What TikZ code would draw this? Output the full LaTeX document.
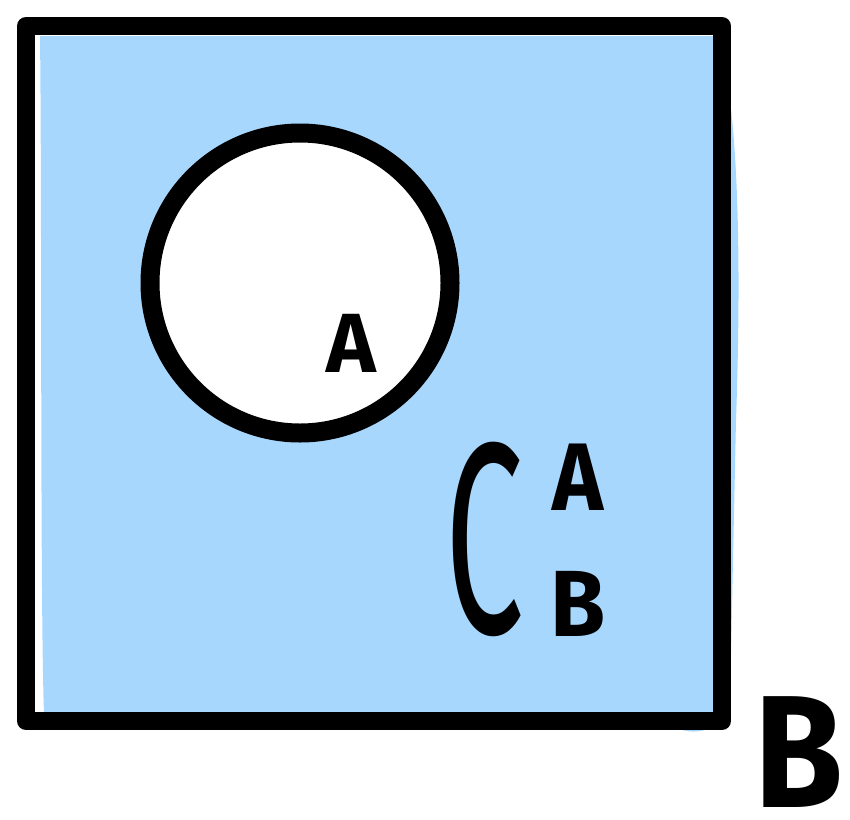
\documentclass[tikz,border=0pt]{standalone}
\usepackage{fontspec}
\setmainfont{Fira Sans}
\definecolor{setblue}{HTML}{A8D7FD}
\tikzset{
  outline/.style={draw=black, line join=round, line cap=round},
  hand/.style={inner sep=0pt, outer sep=0pt, text=black},
}
\begin{document}
\begin{tikzpicture}[x=1pt, y=-1pt]
\useasboundingbox (0,0) rectangle (850,819);
% wobbly blue fill
\fill[setblue] (40,36) -- (716,36) .. controls (738,90) and (742,250) .. (736,420)
  -- (730,700) .. controls (724,736) and (684,738) .. (668,722) -- (44,714)
  .. controls (40,600) and (42,200) .. (40,36) -- cycle;
% the square (set B)
\node[outline, line width=18pt, rectangle, minimum width=696pt, minimum height=695pt,
  inner sep=0pt] (setB) at (374,373.5) {};
% the circle (set A)
\node[outline, line width=19pt, circle, fill=white, minimum size=300pt, inner sep=0pt]
  (setA) at (300,283) {};
% labels
\node[hand, font=\bfseries\fontsize{84}{84}\selectfont] (labA) at (351,343) {A};
\node[hand, font=\fontsize{140}{140}\selectfont, yscale=1.95] (labC) at (484.5,539) {C};
\node[hand, font=\bfseries\fontsize{96}{96}\selectfont, xscale=0.9] (supA) at (577.5,477) {A};
\node[hand, font=\bfseries\fontsize{94}{94}\selectfont, xscale=0.95] (subB) at (578,604) {B};
\node[hand, font=\bfseries\fontsize{160}{160}\selectfont, xscale=0.9] (bigB) at (799,752) {B};
\end{tikzpicture}
\end{document}
